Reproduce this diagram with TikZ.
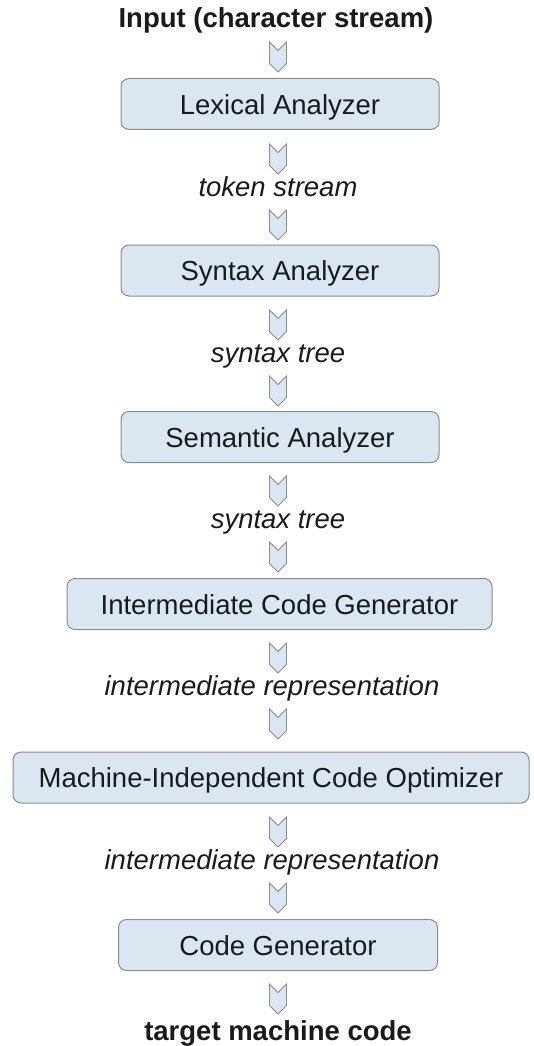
\documentclass[tikz,border=0pt]{standalone}
\usepackage{fontspec}
\setmainfont{Liberation Sans}
\usetikzlibrary{shapes.symbols}
\definecolor{stagefill}{RGB}{218, 231, 243}
\definecolor{stageedge}{RGB}{140, 140, 140}
\definecolor{inkdark}{RGB}{26, 26, 26}
\newcommand{\flowfont}{\fontsize{27.5}{30}\selectfont}
\tikzstyle{stage}=[shape=rectangle, rounded corners=8pt, draw=stageedge, fill=stagefill, line width=1pt, minimum height=51pt, inner sep=0pt, text height=20pt, text depth=0pt, text=inkdark, font=\flowfont]
\tikzstyle{chevron}=[shape=signal, signal from=north, signal to=south, draw=stageedge, fill=stagefill, line width=0.8pt, minimum width=17pt, minimum height=13pt, inner sep=0pt]
\tikzstyle{flowlabel}=[anchor=base, inner sep=0pt, text=inkdark, font=\flowfont\itshape]
\tikzstyle{endlabel}=[anchor=base, inner sep=0pt, text=inkdark, font=\flowfont\bfseries]

\begin{document}
\begin{tikzpicture}[x=1pt, y=-1pt]
    \useasboundingbox (0,0) rectangle (534,1046);

    % Input and output
    \node[endlabel] (input) at (276,28) {Input (character stream)};
    \node[endlabel] (output) at (278,1040) {target machine code};

    % Phases
    \node[stage, minimum width=318pt] (lexer) at (280,104) {Lexical Analyzer};
    \node[stage, minimum width=318pt] (parser) at (280,270.5) {Syntax Analyzer};
    \node[stage, minimum width=318pt] (semantic) at (280,437) {Semantic Analyzer};
    \node[stage, minimum width=425pt] (icg) at (279.5,604) {Intermediate Code Generator};
    \node[stage, minimum width=516pt] (optimizer) at (271,777.5) {Machine-Independent Code Optimizer};
    \node[stage, minimum width=319pt] (codegen) at (278,945) {Code Generator};

    % Data between the phases
    \node[flowlabel] (tokens) at (278,196) {token stream};
    \node[flowlabel] (tree1) at (278,362) {syntax tree};
    \node[flowlabel] (tree2) at (278,528) {syntax tree};
    \node[flowlabel] (ir1) at (272,695) {intermediate representation};
    \node[flowlabel] (ir2) at (272,869) {intermediate representation};

    % Block arrows
    \node[chevron] (c0) at (278,57) {};
    \node[chevron] (c1) at (278,159) {};
    \node[chevron] (c2) at (278,225) {};
    \node[chevron] (c3) at (278,325) {};
    \node[chevron] (c4) at (278,391) {};
    \node[chevron] (c5) at (278,491) {};
    \node[chevron] (c6) at (278,557) {};
    \node[chevron] (c7) at (278,658) {};
    \node[chevron] (c8) at (278,724) {};
    \node[chevron] (c9) at (278,832) {};
    \node[chevron] (c10) at (278,898) {};
    \node[chevron] (c11) at (278,999) {};

\end{tikzpicture}
\end{document}
